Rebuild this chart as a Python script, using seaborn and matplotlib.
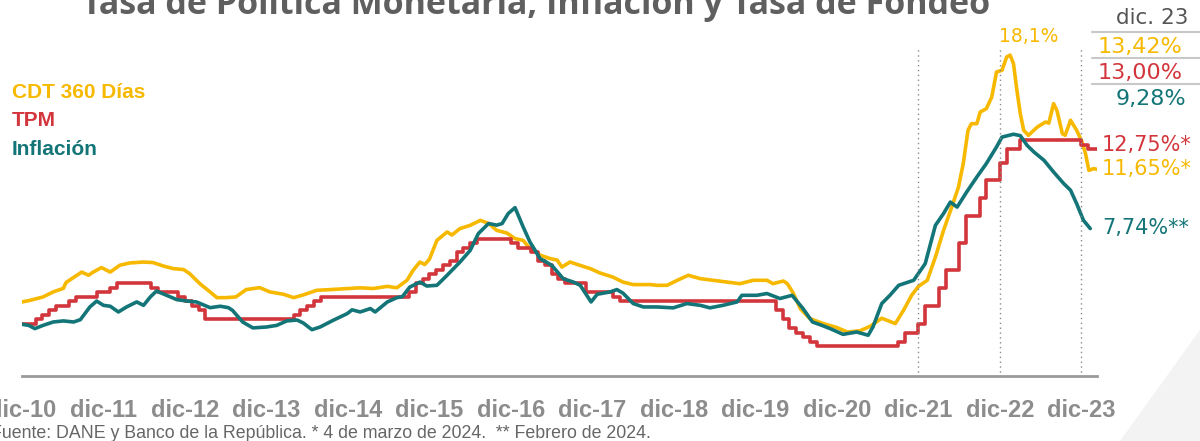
import pandas as pd
import matplotlib.pyplot as plt
import seaborn as sns
from matplotlib.patches import Polygon

# months counted from dic-10 (= 0)
tick_labels = ['dic-10', 'dic-11', 'dic-12', 'dic-13', 'dic-14', 'dic-15', 'dic-16',
               'dic-17', 'dic-18', 'dic-19', 'dic-20', 'dic-21', 'dic-22', 'dic-23']

# CDT 360 dias
cdt_month = [0, 1.2, 3.1, 4.6, 6.1, 6.5, 8.1, 8.8, 9.8, 10.5, 11.7, 13.0, 14.4, 15.9, 17.9,
             19.3, 20.8, 22.3, 23.8, 24.7, 26.2, 27.7, 28.7, 30.1, 31.5, 33, 35, 36.5, 38.5,
             40, 41.4, 43.4, 45.4, 47.9, 49.8, 51.7, 53.8, 55.2, 56.7, 57.6, 58.6, 59.3, 60,
             61.1, 62.6, 63.3, 64.5, 66, 67.5, 68.7, 69.9, 71.4, 72.6, 73.8, 74.8, 76.3, 77.8,
             78.8, 79.5, 80.7, 82.2, 83.7, 85.1, 87, 88.5, 90, 92.5, 93.5, 95, 96.5, 98.1,
             99.9, 101.8, 103.8, 105.7, 107.7, 109.7, 110.6, 112.1, 112.7, 113.6, 114.6, 116,
             118, 120, 121.5, 123.4, 124.9, 126.6, 127.4, 128.6, 129.8, 131, 132, 133.3, 134.5,
             135.7, 136.9, 137.9, 138.6, 139.3, 139.8, 140.6, 141.1, 142, 142.8, 143.5, 144.3,
             145, 145.5, 146, 146.5, 147, 147.5, 148.2, 149.5, 150.7, 151.2, 151.9, 152.4,
             153.2, 153.6, 154.4, 155.3, 156.1, 156.6, 157.1, 157.8, 158.3]
cdt_value = [4.21, 4.30, 4.49, 4.77, 4.97, 5.30, 5.70, 5.88, 5.70, 5.88, 6.13, 5.88, 6.26, 6.39, 6.44,
             6.41, 6.22, 6.07, 6.02, 5.79, 5.23, 4.77, 4.45, 4.45, 4.49, 4.90, 5.01, 4.77, 4.64,
             4.45, 4.60, 4.86, 4.90, 4.96, 5.00, 4.96, 5.08, 5.00, 5.42, 5.98, 6.44, 6.30, 6.60,
             7.65, 8.12, 7.95, 8.31, 8.49, 8.77, 8.60, 8.21, 8.06, 7.75, 7.65, 7.19, 6.82, 6.63,
             6.55, 6.16, 6.44, 6.25, 6.07, 5.83, 5.60, 5.32, 5.18, 5.18, 5.14, 5.14, 5.42, 5.70,
             5.51, 5.42, 5.32, 5.23, 5.42, 5.42, 5.23, 5.38, 5.23, 4.68, 3.84, 3.28,
             3.00, 2.78, 2.53, 2.60, 2.85, 3.30, 3.18, 3.00, 3.74, 4.58, 5.08, 5.42, 6.72,
             8.21, 9.51, 10.63, 11.94, 13.80, 14.17, 14.17, 14.82, 15.01, 15.66, 17.06, 17.15,
             17.90, 18.00, 17.52, 16.03, 14.73, 13.80, 13.52, 13.98, 14.26, 14.20, 15.29, 14.90,
             13.61, 13.52, 14.36, 13.80, 13.15, 12.50, 11.56, 11.66, 11.62]

# TPM: month of each change and new rate
tpm_month = [0, 2, 3, 4, 5, 7, 8, 11, 13, 14, 19, 20, 23, 24, 25, 26, 27,
             40, 41, 42, 43, 44, 57, 58, 59, 60, 61, 62, 63, 64, 65, 66, 67,
             72, 73, 75, 76, 77, 78, 79, 80, 83, 87, 88,
             111, 112, 113, 114, 115, 116, 117,
             129, 130, 132, 133, 135, 136, 138, 139, 141, 142, 144, 145, 147, 156, 157, 158.3]
tpm_value = [3.0, 3.25, 3.5, 3.75, 4.0, 4.25, 4.5, 4.75, 5.0, 5.25, 5.0, 4.75, 4.5, 4.25, 4.0, 3.75, 3.25,
             3.5, 3.75, 4.0, 4.25, 4.5, 4.75, 5.25, 5.5, 5.75, 6.0, 6.25, 6.5, 7.0, 7.25, 7.5, 7.75,
             7.5, 7.25, 7.0, 6.5, 6.25, 5.75, 5.5, 5.25, 4.75, 4.5, 4.25,
             3.75, 3.25, 2.75, 2.5, 2.25, 2.0, 1.75,
             2.0, 2.5, 3.0, 4.0, 5.0, 6.0, 7.5, 9.0, 10.0, 11.0, 12.0, 12.75, 13.25, 13.0, 12.75, 12.75]

# Inflacion
inf_month = [0, 1, 1.9, 3.1, 4.6, 6.1, 7.6, 8.6, 10, 11, 12, 13, 14.2, 15.4, 16.9, 17.9, 18.9,
             19.8, 21.3, 22.8, 24.3, 25.7, 27.7, 29.2, 30.4, 31, 32.5, 34, 36, 37.5, 39, 40.5,
             41.4, 42.7, 43.9, 45.8, 47.9, 48.6, 49.8, 51.3, 52, 53.8, 55.2, 56, 57.1, 58.6,
             59.6, 61.1, 62.6, 64.5, 66, 67.2, 68.7, 69.9, 70.7, 71.6, 72.6, 73.8, 74.8, 76.3,
             78, 79.7, 81.2, 82.2, 83.8, 84.7, 86.6, 87.6, 88.5, 90, 91.5, 93.5, 95.9, 97.9,
             99.9, 101.3, 103.2, 105.3, 106, 108.2, 109.7, 111.6, 113.4, 115, 116.4, 117.8, 119,
             120.9, 122.9, 124.6, 125.3, 126.6, 127.8, 129.1, 131.3, 133, 134.5, 135.7, 136.7,
             137.7, 139.1, 140.6, 142, 143.5, 144.3, 146, 147, 148, 149, 150.5, 151.9, 153.4,
             154.4, 155.3, 156.3, 157.3]
inf_value = [2.96, 2.90, 2.72, 2.90, 3.09, 3.15, 3.09, 3.22, 3.93, 4.26, 4.02, 3.97, 3.65, 3.93, 4.21, 4.02, 4.49,
             4.82, 4.58, 4.34, 4.26, 4.21, 3.89, 3.97, 3.89, 3.74, 3.09, 2.76, 2.81, 2.90, 3.15, 3.20,
             3.04, 2.66, 2.81, 3.18, 3.56, 3.77, 3.65, 3.84, 3.65, 4.21, 4.45, 4.50, 5.04, 5.32,
             5.10, 5.14, 5.70, 6.44, 7.09, 8.03, 8.59, 8.50, 8.59, 9.15, 9.48, 8.40, 7.56, 6.63,
             6.26, 5.51, 5.32, 5.14, 4.21, 4.64, 4.77, 4.90, 4.70, 4.12, 3.93, 3.93, 3.88, 4.12,
             4.02, 3.88, 4.02, 4.21, 4.58, 4.58, 4.68, 4.40, 4.58, 3.84, 3.09, 2.90, 2.72,
             2.40, 2.53, 2.35, 2.81, 4.12, 4.58, 5.14, 5.42, 6.35, 8.49, 9.15, 9.79,
             9.51, 10.35, 11.19, 11.94, 12.87, 13.42, 13.58, 13.50, 12.96, 12.59, 12.12, 11.47, 10.82,
             10.45, 9.70, 8.77, 8.31]

c_cdt = '#F7B900'
c_tpm = '#D2363C'
c_inf = '#137577'
grey = '#8c8c8c'

sns.set_style('white')
plt.rcParams['font.family'] = ['Liberation Sans', 'DejaVu Sans']

fig = plt.figure(figsize=(12, 4.41), dpi=100)
ax = fig.add_axes([0.0183, 0.1485, 0.8959, 0.8077])

cdt = pd.DataFrame({'mes': cdt_month, 'valor': cdt_value})
tpm = pd.DataFrame({'mes': tpm_month, 'valor': tpm_value})
inf = pd.DataFrame({'mes': inf_month, 'valor': inf_value})

sns.lineplot(data=cdt, x='mes', y='valor', color=c_cdt, linewidth=2.6, ax=ax, errorbar=None)
sns.lineplot(data=tpm, x='mes', y='valor', color=c_tpm, linewidth=2.6, ax=ax, errorbar=None,
             drawstyle='steps-post')
sns.lineplot(data=inf, x='mes', y='valor', color=c_inf, linewidth=2.6, ax=ax, errorbar=None)

# dotted reference lines at dic-21, dic-22, dic-23
ax.vlines([132, 144, 156], 0, 18.4, colors='#8a8a8a', linestyles=(0, (1, 2.5)), linewidth=1)

ax.set_xlim(0, 158.3)
ax.set_ylim(0.1, 20)
ax.set_xticks(range(0, 157, 12))
ax.set_xticklabels(tick_labels)
ax.set_yticks([])
ax.set_xlabel('')
ax.set_ylabel('')
for s in ['left', 'top', 'right']:
    ax.spines[s].set_visible(False)
ax.spines['bottom'].set_color('#9a9a9a')
ax.spines['bottom'].set_linewidth(2)
ax.tick_params(axis='x', length=6, width=1.5, color='#9a9a9a', pad=11,
               labelsize=17, labelcolor=grey)
for lbl in ax.get_xticklabels():
    lbl.set_fontfamily(['Liberation Sans Narrow', 'Liberation Sans'])
    lbl.set_fontweight('bold')

# title (cut at the top like the slide)
fig.text(0.447, 1 - 14 / 441, 'Tasa de Política Monetaria, Inflación y Tasa de Fondeo',
         ha='center', va='baseline', fontsize=24.5, fontweight='bold', color='#5f5f5f',
         family=['Open Sans', 'DejaVu Sans'])

# legend as coloured text
for label, col, ypix in [('CDT 360 Días', c_cdt, 93), ('TPM', c_tpm, 121), ('Inflación', c_inf, 150)]:
    fig.text(12 / 1200, 1 - ypix / 441, label, ha='left', va='center', fontsize=15,
             fontweight='bold', color=col)

# small table on the right
fig.text(1152 / 1200, 1 - 18 / 441, 'dic. 23', ha='center', va='center', fontsize=15.5, color='#555555',
         family=['DejaVu Sans'])
for ypix in [32, 58, 84]:
    fig.add_artist(plt.Line2D([1092 / 1200, 1], [1 - ypix / 441] * 2, color='#c8c8c8', linewidth=1.5))
for txt, col, xpix, ypix in [('13,42%', c_cdt, 1140, 47), ('13,00%', c_tpm, 1140, 73), ('9,28%', c_inf, 1151, 99)]:
    fig.text(xpix / 1200, 1 - ypix / 441, txt, ha='center', va='center', fontsize=16, color=col,
             family=['DejaVu Sans'])

# end labels
fig.text(1029 / 1200, 1 - 37 / 441, '18,1%', ha='center', va='center', fontsize=13.5, color=c_cdt,
         family=['DejaVu Sans'])
for txt, col, ypix in [('12,75%*', c_tpm, 145), ('11,65%*', c_cdt, 169), ('7,74%**', c_inf, 228)]:
    fig.text(1102 / 1200, 1 - ypix / 441, txt, ha='left', va='center', fontsize=15, color=col,
             family=['DejaVu Sans'])

fig.text(-9 / 1200, 1 - 433 / 441,
         'Fuente: DANE y Banco de la República. * 4 de marzo de 2024.  ** Febrero de 2024.',
         ha='left', va='center', fontsize=12.8, color='#666666',
         family=['Liberation Sans Narrow', 'Liberation Sans'])

# light wedge from the slide background, bottom right
fig.add_artist(Polygon([[1120 / 1200, 0], [1, 1 - 330 / 441], [1, 0]], closed=True,
                       facecolor='#f3f3f3', edgecolor='none', zorder=-1))

fig.savefig('out.png', dpi=100)
